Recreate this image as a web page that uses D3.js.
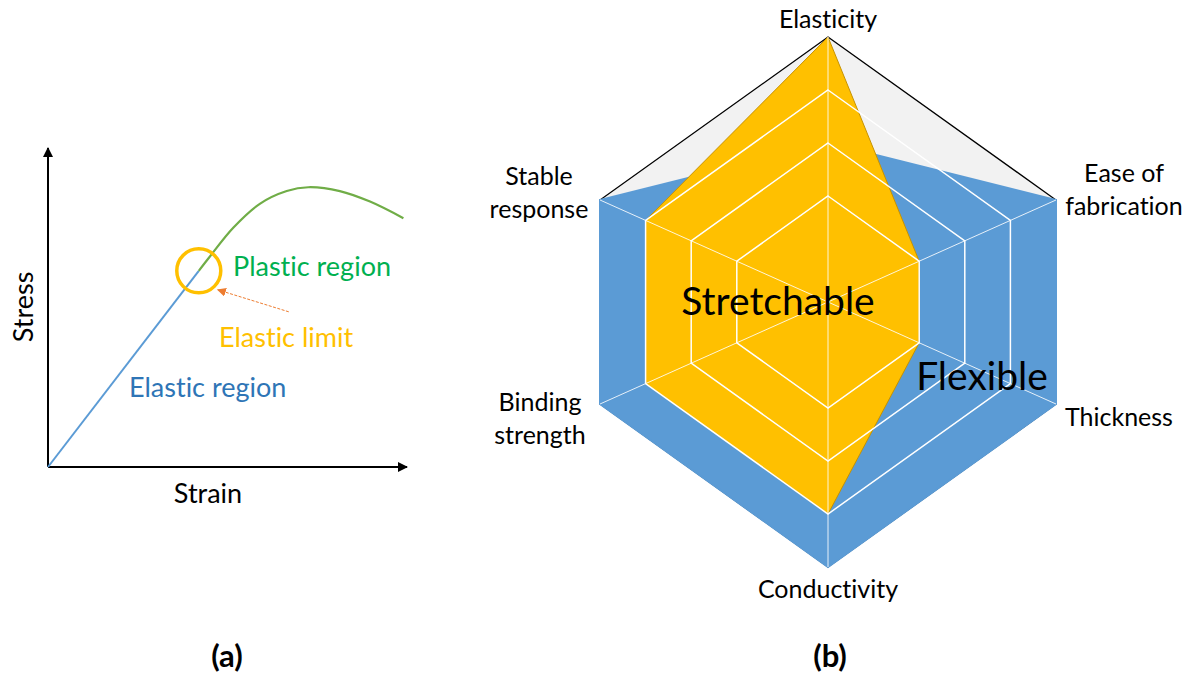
<!DOCTYPE html>
<meta charset="utf-8">
<html>
<head>
<style>
  body { margin: 0; background: #fff; }
  svg text { font-family: Lato, "Open Sans", sans-serif; font-variant-ligatures: none; font-feature-settings: "liga" 0, "clig" 0; }
</style>
<script src="https://d3js.org/d3.v7.min.js"></script>
</head>
<body>
<script>

// ---- data, panel (a): stress / strain curve (units 0-100 on both axes)
const elasticPoints = [[0, 0], [42, 61.5]];
const plasticPoints = [[42, 61.5], [45.1, 66], [51.6, 75], [59, 82.5], [66.5, 86.5],
                       [72.5, 87.7], [81.3, 86.5], [89.7, 83.2], [99, 78]];
const elasticLimit = [42, 61.5];

// ---- data, panel (b): radar
const radarAxes = ["Elasticity", "Ease of fabrication", "Thickness",
                   "Conductivity", "Binding strength", "Stable response"];
const axisLabelLines = [["Elasticity"], ["Ease of", "fabrication"], ["Thickness"],
                        ["Conductivity"], ["Binding", "strength"], ["Stable", "response"]];
const flexibleValues = [3, 5, 5, 5, 5, 5];
const stretchableValues = [5, 2, 2, 4, 4, 4];
const ringLevels = [2, 3, 4, 5];

var width = 1193, height = 676;

var svg = d3.select("body").append("svg")
    .attr("width", width)
    .attr("height", height);

var defs = svg.append("defs");
defs.append("marker")
    .attr("id", "axisArrow")
    .attr("viewBox", "0 0 10 10")
    .attr("refX", 9).attr("refY", 5)
    .attr("markerWidth", 5).attr("markerHeight", 5)
    .attr("markerUnits", "strokeWidth")
    .attr("orient", "auto")
  .append("path")
    .attr("d", "M0,0L10,5L0,10z")
    .attr("fill", "#000");
defs.append("marker")
    .attr("id", "limitArrow")
    .attr("viewBox", "0 0 10 10")
    .attr("refX", 9).attr("refY", 5)
    .attr("markerWidth", 9).attr("markerHeight", 9)
    .attr("markerUnits", "userSpaceOnUse")
    .attr("orient", "auto")
  .append("path")
    .attr("d", "M0,0L10,5L0,10z")
    .attr("fill", "#ED7D31");

/* ---------------- panel (a) ---------------- */
var x = d3.scaleLinear().domain([0, 100]).range([48, 407]);
var y = d3.scaleLinear().domain([0, 100]).range([467, 148]);

var gA = svg.append("g").attr("class", "panel-a");

// axes with arrow heads
gA.append("line")
    .attr("x1", x(0)).attr("y1", y(0))
    .attr("x2", x(0)).attr("y2", y(100))
    .attr("stroke", "#000").attr("stroke-width", 2)
    .attr("marker-end", "url(#axisArrow)");
gA.append("line")
    .attr("x1", x(0)).attr("y1", y(0))
    .attr("x2", x(100)).attr("y2", y(0))
    .attr("stroke", "#000").attr("stroke-width", 2)
    .attr("marker-end", "url(#axisArrow)");

var line = d3.line().x(d => x(d[0])).y(d => y(d[1]));

gA.append("path")
    .datum(elasticPoints)
    .attr("d", line)
    .attr("fill", "none")
    .attr("stroke", "#5B9BD5")
    .attr("stroke-width", 2);

gA.append("path")
    .datum(plasticPoints)
    .attr("d", line.curve(d3.curveCatmullRom.alpha(0.5)))
    .attr("fill", "none")
    .attr("stroke", "#70AD47")
    .attr("stroke-width", 2.2);

// elastic limit circle and pointer
gA.append("circle")
    .attr("cx", x(elasticLimit[0])).attr("cy", y(elasticLimit[1]))
    .attr("r", 22)
    .attr("fill", "none")
    .attr("stroke", "#FFC000")
    .attr("stroke-width", 3.5);

gA.append("line")
    .attr("x1", x(elasticLimit[0]) + 90).attr("y1", y(elasticLimit[1]) + 41)
    .attr("x2", x(elasticLimit[0]) + 19).attr("y2", y(elasticLimit[1]) + 19)
    .attr("stroke", "#ED7D31")
    .attr("stroke-width", 1)
    .attr("stroke-dasharray", "3,1.5")
    .attr("marker-end", "url(#limitArrow)");

gA.append("text")
    .attr("x", 233).attr("y", 276)
    .attr("fill", "#00B050")
    .style("font-size", "27px")
    .text("Plastic region");
gA.append("text")
    .attr("x", 219).attr("y", 347)
    .attr("fill", "#FFC000")
    .style("font-size", "27px")
    .text("Elastic limit");
gA.append("text")
    .attr("x", 129).attr("y", 397)
    .attr("fill", "#2E75B6")
    .style("font-size", "27px")
    .text("Elastic region");

gA.append("text")
    .attr("transform", "translate(33,307) rotate(-90)")
    .attr("text-anchor", "middle")
    .attr("fill", "#000")
    .style("font-size", "27px")
    .text("Stress");
gA.append("text")
    .attr("x", 208).attr("y", 503)
    .attr("text-anchor", "middle")
    .attr("fill", "#000")
    .style("font-size", "27px")
    .text("Strain");

/* ---------------- panel (b) ---------------- */
var cx = 828, cy = 302;
var RX = 228, RY = 265;
var sideDrop = 102 / 265;
// spoke direction for each axis (clockwise from top)
var spokes = [[0, -1], [1, -sideDrop], [1, sideDrop], [0, 1], [-1, sideDrop], [-1, -sideDrop]];

var r = d3.scaleLinear().domain([0, 5]).range([0, 1]);

function pt(i, v) {
    return [cx + r(v) * spokes[i][0] * RX, cy + r(v) * spokes[i][1] * RY];
}
function ring(values) {
    return values.map((v, i) => pt(i, v));
}
var poly = d3.line().curve(d3.curveLinearClosed);

var gB = svg.append("g").attr("class", "panel-b");

// outer background with black outline
gB.append("path")
    .attr("d", poly(ring(radarAxes.map(() => 5))))
    .attr("fill", "#F2F2F2")
    .attr("stroke", "#000")
    .attr("stroke-width", 1.3)
    .attr("stroke-linejoin", "miter");

// series
gB.append("path")
    .attr("d", poly(ring(flexibleValues)))
    .attr("fill", "#5B9BD5")
    .attr("stroke", "#5B9BD5")
    .attr("stroke-width", 2);

gB.append("path")
    .attr("d", poly(ring(stretchableValues)))
    .attr("fill", "#FFC000")
    .attr("stroke", "#C69200")
    .attr("stroke-width", 1);

// grid rings and spokes drawn on top
gB.selectAll(".ring")
    .data(ringLevels.filter(l => l < 5))
    .enter().append("path")
    .attr("class", "ring")
    .attr("d", l => poly(ring(radarAxes.map(() => l))))
    .attr("fill", "none")
    .attr("stroke", "#fff")
    .attr("stroke-width", 1.5);

gB.selectAll(".spoke")
    .data(radarAxes)
    .enter().append("line")
    .attr("class", "spoke")
    .attr("x1", cx).attr("y1", cy)
    .attr("x2", (d, i) => pt(i, 5)[0])
    .attr("y2", (d, i) => pt(i, 5)[1])
    .attr("stroke", "#fff")
    .attr("stroke-opacity", 0.85)
    .attr("stroke-width", 1);

// axis labels: [dx, dy of first baseline, anchor]
var labelOffsets = [[0, -9, "middle"], [68, -18, "middle"], [9, 22, "start"],
                    [0, 31, "middle"], [-60, 7, "middle"], [-61, -15, "middle"]];

gB.selectAll(".axis-label")
    .data(radarAxes)
    .enter().append("text")
    .attr("class", "axis-label")
    .attr("text-anchor", (d, i) => labelOffsets[i][2])
    .attr("fill", "#000")
    .style("font-size", "25px")
    .each(function(d, i) {
        var p = pt(i, 5);
        d3.select(this).selectAll("tspan")
            .data(axisLabelLines[i])
            .enter().append("tspan")
            .attr("x", p[0] + labelOffsets[i][0])
            .attr("y", (t, k) => p[1] + labelOffsets[i][1] + k * 33)
            .text(t => t);
    });

// series names
gB.append("text")
    .attr("x", 778).attr("y", 315)
    .attr("text-anchor", "middle")
    .attr("fill", "#000")
    .style("font-size", "39px")
    .text("Stretchable");
gB.append("text")
    .attr("x", 982).attr("y", 390)
    .attr("text-anchor", "middle")
    .attr("fill", "#000")
    .style("font-size", "39px")
    .text("Flexible");

// panel captions
svg.append("text")
    .attr("x", 227).attr("y", 667)
    .attr("text-anchor", "middle")
    .attr("font-weight", "bold")
    .style("font-size", "31px")
    .text("(a)");
svg.append("text")
    .attr("x", 830).attr("y", 667)
    .attr("text-anchor", "middle")
    .attr("font-weight", "bold")
    .style("font-size", "31px")
    .text("(b)");

</script>
</body>
</html>
